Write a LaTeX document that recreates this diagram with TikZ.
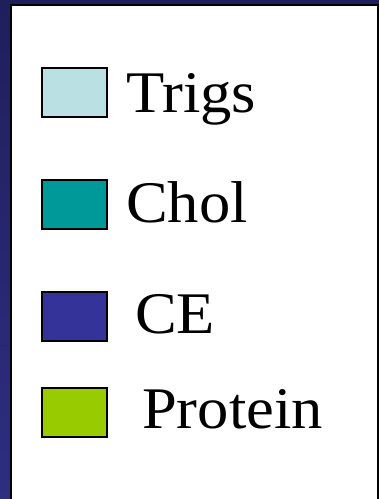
\documentclass[tikz,border=0pt]{standalone}
\usepackage{fontspec}
\setmainfont[FakeStretch=1.06]{Liberation Serif}
\definecolor{navytop}{HTML}{1F1F5C}
\definecolor{navybot}{HTML}{2E2E82}
\definecolor{trigs}{HTML}{BBE0E3}
\definecolor{chol}{HTML}{009999}
\definecolor{ce}{HTML}{333399}
\definecolor{protein}{HTML}{99CC00}
\tikzset{
  swatch/.style={draw=black, line width=2.2pt},
  label/.style={anchor=base west, inner sep=0pt, font=\fontsize{59}{62}\selectfont}
}
\begin{document}
\begin{tikzpicture}[x=1pt,y=-1pt]
\useasboundingbox (0,0) rectangle (379,499);
% slide background band
\shade[top color=navytop, bottom color=navybot] (0,0) rectangle (379,499);
% white legend panel with black frame
\fill[white] (10.75,4.75) rectangle (378.25,505);
\draw[black, line width=2.5pt] (10.75,505) -- (10.75,4.75) -- (378.25,4.75) -- (378.25,505);
% swatches
\fill[trigs]   (42,68)  rectangle (107,117);
\draw[swatch]  (42,68)  rectangle (107,117);
\fill[chol]    (42,180) rectangle (107,229);
\draw[swatch]  (42,180) rectangle (107,229);
\fill[ce]      (42,292) rectangle (107,341);
\draw[swatch]  (42,292) rectangle (107,341);
\fill[protein] (42,388) rectangle (107,437);
\draw[swatch]  (42,388) rectangle (107,437);
% labels
\node[label] (t1) at (126,112) {Trigs};
\node[label] (t2) at (126,222) {Chol};
\node[label] (t3) at (135,333) {CE};
\node[label] (t4) at (142,428) {Protein};
\end{tikzpicture}
\end{document}
